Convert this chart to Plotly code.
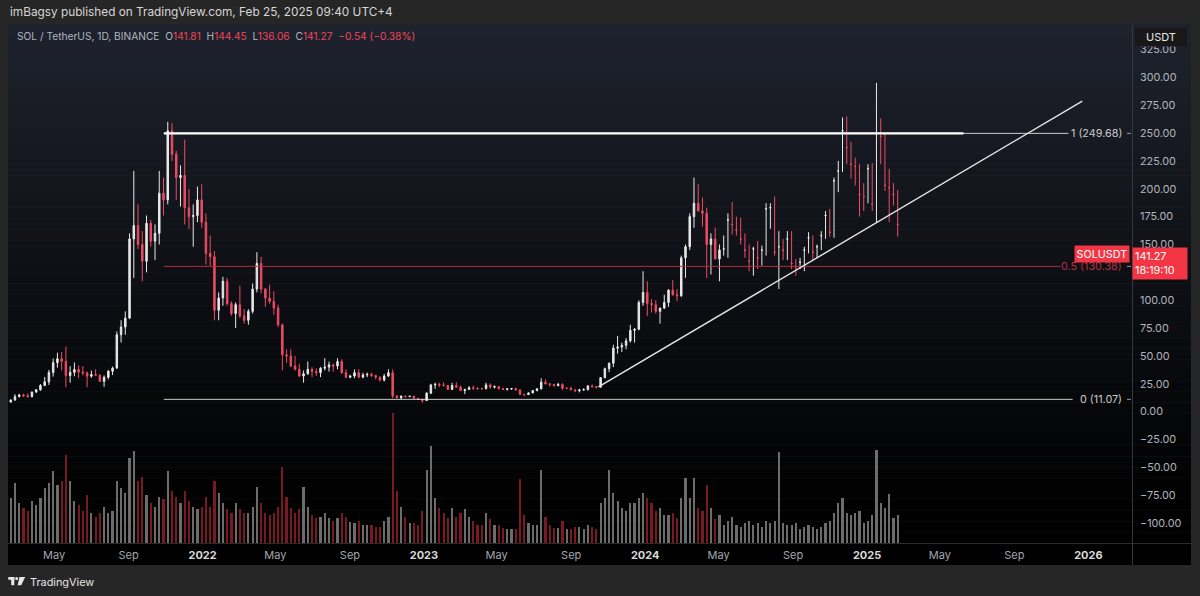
import plotly.graph_objects as go
import pandas as pd

# ---------------- data (weekly candles) ----------------
first_week_mid = "2021-02-18 12:00"

open_2021 = [8.6, 10.4, 13.5, 15.0, 14.2, 13.4, 17.6, 19.6, 23.5, 26.8, 35.2, 44.0, 47.5, 45.2, 32.5, 35.3,
             37.8, 35.6, 34.7, 31.9, 33.3, 32.7, 27.2, 30.9, 36.2, 39.1, 69, 76, 84, 155, 167, 150, 135, 169,
             153, 160, 196, 190, 252, 231, 210, 212, 183, 175, 176, 190]
high_2021 = [11.2, 15.7, 16.0, 16.2, 16.4, 18.0, 20.3, 24.8, 31.0, 37.5, 47.6, 53.0, 53.5, 58.3, 40.8, 44.2,
             41.5, 41.0, 36.0, 36.9, 38.0, 33.7, 32.5, 37.5, 40.5, 72, 82, 90, 160, 216, 186, 162, 176, 172,
             168, 216, 210, 260, 259, 234, 221, 244, 200, 186, 202, 204]
low_2021 = [8.3, 10.0, 12.8, 13.5, 12.9, 13.0, 16.8, 18.8, 22.9, 24.0, 31.5, 39.5, 36.9, 22.0, 26.0, 31.8,
            30.1, 32.5, 22.0, 30.4, 31.8, 26.7, 22.3, 29.0, 32.8, 38.5, 62, 69, 83, 120, 146, 117, 125, 148,
            136, 150, 176, 186, 225, 190, 184, 168, 164, 148, 170, 165]
close_2021 = [10.4, 13.5, 15.0, 14.2, 13.4, 17.6, 19.6, 23.5, 26.8, 35.2, 44.0, 47.5, 45.2, 32.5, 35.3, 37.8,
              35.6, 34.7, 31.9, 33.3, 32.7, 27.2, 30.9, 36.2, 39.1, 69, 76, 84, 155, 167, 150, 135, 169, 153,
              160, 196, 190, 252, 231, 210, 212, 183, 175, 176, 190, 170]

open_2022 = [170, 142, 139, 91, 102, 117, 97, 88, 96, 86, 82, 90, 110, 133, 110, 102, 99, 93, 78, 51, 50, 41,
             38, 32, 34, 38, 36, 35, 39, 40, 42, 41, 45, 35, 31, 32, 35, 31, 33, 33.5, 32.5, 31, 28.5, 32, 35,
             14, 12.5, 14, 13.5, 13.8, 12.0, 11.2]
high_2022 = [178, 158, 144, 107, 121, 120, 99, 98, 113, 92, 92, 115, 143, 139, 111, 114, 108, 96, 79, 56, 56,
             50, 43, 37, 45, 40, 39, 40, 48, 45, 43, 48, 47, 38, 33, 38, 38, 35, 35, 35, 33, 31.5, 34, 38, 38,
             15, 14.5, 14.5, 14.5, 14.2, 12.2, 11.3]
low_2022 = [132, 131, 82, 82, 95, 95, 86, 75, 84, 79, 78, 88, 107, 106, 94, 97, 87, 76, 37, 44, 40, 37, 31, 26,
            33, 31, 32, 31, 37, 36, 36, 38, 34, 30, 30, 30, 30, 30, 31, 31, 29, 27, 27, 31, 12, 12, 11.2, 12.8,
            13.3, 11.6, 10.9, 8.0]
close_2022 = [142, 139, 91, 102, 117, 97, 88, 96, 86, 82, 90, 110, 133, 110, 102, 99, 93, 78, 51, 50, 41, 38,
              32, 34, 38, 36, 35, 39, 40, 42, 41, 45, 35, 31, 32, 35, 31, 33, 33.5, 32.5, 31, 28.5, 32, 35, 14,
              12.5, 14, 13.5, 13.8, 12.0, 11.2, 10.0]

open_2023 = [10.0, 16.6, 24.0, 24.5, 24.0, 23.5, 20.0, 23.5, 22.0, 19.0, 20.0, 21.5, 21.0, 20.8, 20.5, 24.0,
             22.0, 22.5, 20.5, 20.0, 20.5, 20.8, 19.5, 15.5, 15.3, 16.8, 19.0, 20.5, 26.5, 25.0, 24.5, 23.3,
             24.5, 21.0, 21.0, 19.5, 18.8, 19.5, 19.8, 23.0, 22.5, 22.0, 30.5, 38.5, 43.5, 57.0, 58.0, 59.5,
             63.5, 73.0, 74.0, 98.0]
high_2023 = [17.5, 25.0, 26.0, 26.0, 26.5, 24.0, 26.0, 26.5, 23.5, 20.5, 23.0, 23.5, 21.8, 21.5, 26.0, 25.5,
             23.5, 23.0, 21.5, 21.0, 21.0, 21.5, 20.0, 16.0, 17.5, 19.5, 21.0, 30.0, 29.0, 25.5, 25.0, 25.8,
             25.5, 22.0, 22.5, 20.5, 20.5, 21.0, 24.0, 24.5, 23.0, 31.0, 39.5, 44.0, 60.0, 68.0, 62.0, 66.0,
             78.0, 75.0, 100.0, 126.0]
low_2023 = [9.9, 15.8, 20.5, 22.0, 22.5, 19.5, 19.5, 21.5, 18.5, 15.8, 19.5, 19.5, 19.5, 19.8, 20.3, 20.5,
            20.8, 20.0, 19.5, 19.0, 19.5, 19.0, 15.0, 13.8, 15.0, 16.5, 18.2, 20.0, 24.5, 22.5, 22.5, 23.0,
            19.5, 20.0, 19.5, 17.5, 17.3, 18.8, 19.0, 21.5, 20.8, 21.8, 30.0, 35.5, 40.0, 52.0, 53.5, 56.0,
            62.0, 62.0, 73.0, 95.0]
close_2023 = [16.6, 24.0, 24.5, 24.0, 23.5, 20.0, 23.5, 22.0, 19.0, 20.0, 21.5, 21.0, 20.8, 20.5, 24.0, 22.0,
              22.5, 20.5, 20.0, 20.5, 20.8, 19.5, 15.5, 15.3, 16.8, 19.0, 20.5, 26.5, 25.0, 24.5, 23.3, 24.5,
              21.0, 21.0, 19.5, 18.8, 19.5, 19.8, 23.0, 22.5, 22.0, 30.5, 38.5, 43.5, 57.0, 58.0, 59.5, 63.5,
              73.0, 74.0, 98.0, 107.0]

open_2024 = [107, 97, 96, 90, 93, 98, 109, 105, 104, 138, 148, 175, 187, 180, 178, 150, 155, 137, 146, 172,
             168, 163, 155, 145, 135, 146, 138, 145, 182, 183, 143, 148, 145, 155, 133, 130, 134, 145, 156,
             143, 148, 158, 176, 161, 207, 216, 252, 237, 222, 220, 195, 193]
high_2024 = [117, 101, 100, 92, 105, 110, 118, 110, 140, 150, 178, 210, 204, 192, 183, 160, 165, 150, 158,
             178, 188, 175, 174, 160, 150, 148, 153, 149, 187, 187, 193, 162, 155, 162, 162, 137, 138, 148, 161,
             158, 150, 162, 180, 182, 210, 225, 264, 265, 242, 228, 222, 205, 222]
low_2024 = [86, 89, 88, 79, 92, 94, 104, 99, 103, 120, 145, 165, 180, 166, 120, 123, 140, 117, 140, 138, 159,
            158, 150, 138, 126, 122, 128, 131, 140, 164, 140, 110, 136, 136, 128, 122, 128, 126, 142, 136, 138,
            145, 155, 157, 156, 197, 215, 222, 209, 203, 175, 180, 187]
close_2024 = [97, 96, 90, 93, 98, 109, 105, 104, 138, 148, 175, 187, 180, 178, 150, 155, 137, 145, 146, 172,
              168, 163, 155, 145, 135, 146, 138, 145, 182, 183, 143, 148, 145, 155, 133, 130, 134, 145, 156,
              143, 148, 158, 176, 161, 207, 216, 252, 237, 222, 220, 195, 193, 218]

open_2025 = [218, 186, 250, 247, 203, 201, 195, 168]
high_2025 = [223, 295, 263, 250, 218, 205, 199, 170]
low_2025 = [180, 170, 222, 198, 170, 185, 157, 136.06]
close_2025 = [186, 250, 247, 203, 201, 195, 168, 141.27]

# relative volume (weekly peaks, arbitrary units)
vol_2021 = [45, 60, 40, 35, 32, 42, 38, 45, 55, 60, 72, 58, 62, 88, 62, 42, 38, 32, 48, 30, 26, 30, 36, 30,
            32, 62, 55, 50, 85, 92, 62, 66, 48, 40, 36, 46, 44, 72, 52, 46, 40, 52, 42, 36, 34, 36]
vol_2022 = [46, 36, 62, 50, 40, 34, 30, 40, 34, 30, 30, 36, 56, 40, 30, 28, 30, 36, 76, 46, 35, 30, 34, 56,
            36, 28, 25, 26, 30, 25, 22, 25, 30, 26, 21, 20, 22, 18, 18, 18, 16, 16, 22, 26, 130, 52, 36, 26,
            20, 20, 18, 32]
vol_2023 = [73, 97, 45, 35, 30, 25, 35, 26, 30, 34, 26, 22, 18, 18, 30, 24, 18, 18, 15, 14, 14, 14, 64, 28,
            20, 18, 18, 73, 26, 18, 15, 15, 22, 14, 14, 16, 16, 14, 18, 16, 14, 40, 45, 73, 50, 42, 35, 32,
            40, 40, 45, 50]
vol_2024 = [45, 40, 32, 35, 28, 28, 30, 25, 45, 65, 45, 65, 35, 32, 58, 35, 24, 28, 18, 22, 26, 18, 16, 20,
            22, 18, 20, 16, 22, 20, 22, 91, 20, 18, 18, 20, 14, 16, 18, 16, 14, 16, 20, 22, 30, 40, 45, 30,
            28, 30, 32, 20, 22]
vol_2025 = [28, 93, 40, 35, 49, 25, 28, 30]

opens = open_2021 + open_2022 + open_2023 + open_2024 + open_2025
highs = high_2021 + high_2022 + high_2023 + high_2024 + high_2025
lows = low_2021 + low_2022 + low_2023 + low_2024 + low_2025
closes = close_2021 + close_2022 + close_2023 + close_2024 + close_2025
volumes = vol_2021 + vol_2022 + vol_2023 + vol_2024 + vol_2025
dates = pd.date_range(first_week_mid, periods=len(closes), freq="7D")

# drawings
fib_start = "2021-10-29"
fib_levels = [249.68, 130.38, 11.07]
fib_labels = ["1 (249.68)", "0.5 (130.38)", "0 (11.07)"]
fib_line_ends = ["2025-11-29", "2025-11-16", "2025-12-06"]
fib_colors = ["rgba(235,235,235,0.85)", "rgba(190,45,60,0.95)", "rgba(235,235,235,0.85)"]
fib_label_colors = ["#c9c9c9", "#b0323f", "#c9c9c9"]
top_line_end = "2025-06-09"
trend_dates = ["2023-10-16", "2025-12-22"]
trend_prices = [22.2, 278.7]

price_ticks = [-100, -75, -50, -25, 0, 25, 50, 75, 100, 125, 150, 175, 200, 225, 250, 275, 300, 325]
time_ticks = ["2021-05-01", "2021-09-01", "2022-01-01", "2022-05-01", "2022-09-01", "2023-01-01",
              "2023-05-01", "2023-09-01", "2024-01-01", "2024-05-01", "2024-09-01", "2025-01-01",
              "2025-05-01", "2025-09-01", "2026-01-01"]
time_labels = ["May", "Sep", "2022", "May", "Sep", "2023", "May", "Sep", "2024", "May", "Sep", "2025",
               "May", "Sep", "2026"]

last_price = 141.27
countdown = "18:19:10"

# ---------------- figure ----------------
L, R, T, B = 8, 1132, 24, 543  # plot area in pixels
W, H = 1200, 596


def PX(px):
    return (px - L) / (R - L)


def PY(py):
    return (B - py) / (B - T)


UP = "#e8e8e8"
DOWN = "#ec4d62"

fig = go.Figure()

vol_colors = ["rgba(150,150,150,0.72)" if c >= o else "rgba(140,30,42,0.85)" for o, c in zip(opens, closes)]
fig.add_trace(go.Bar(x=dates, y=volumes, yaxis="y2", marker=dict(color=vol_colors, line=dict(width=0)),
                     width=3.6 * 86400000, hoverinfo="skip"))

fig.add_trace(go.Candlestick(
    x=dates, open=opens, high=highs, low=lows, close=closes,
    increasing=dict(line=dict(color=UP, width=1), fillcolor=UP),
    decreasing=dict(line=dict(color=DOWN, width=1), fillcolor=DOWN),
    whiskerwidth=0, hoverinfo="skip"))

shapes = []
# background gradient of the chart panel (plot + price scale)
n = 48
for i in range(n):
    t0 = i / n
    t1 = (i + 1) / n
    f = 1 - (i + 0.5) / n
    r, g, b = int(31 * f ** 1.15), int(35 * f ** 1.15), int(46 * f ** 1.15)
    shapes.append(dict(type="rect", xref="paper", yref="paper", x0=PX(8), x1=PX(1191),
                       y0=1 - t1, y1=1 - t0, fillcolor=f"rgb({r},{g},{b})", line=dict(width=0), layer="below"))
# time-axis strip
shapes.append(dict(type="rect", xref="paper", yref="paper", x0=PX(8), x1=PX(1191), y0=PY(565), y1=PY(543),
                   fillcolor="#000000", line=dict(width=0), layer="below"))
shapes.append(dict(type="line", xref="paper", yref="paper", x0=PX(8), x1=PX(1191), y0=PY(543.5), y1=PY(543.5),
                   line=dict(color="#2b2b2b", width=1), layer="below"))
shapes.append(dict(type="line", xref="paper", yref="paper", x0=PX(1132.5), x1=PX(1132.5), y0=PY(565), y1=PY(24),
                   line=dict(color="#34373f", width=1), layer="below"))

# fib retracement lines
for lvl, end, col in zip(fib_levels, fib_line_ends, fib_colors):
    shapes.append(dict(type="line", xref="x", yref="y", x0=fib_start, x1=end, y0=lvl, y1=lvl,
                       line=dict(color=col, width=1)))
    shapes.append(dict(type="line", xref="paper", yref="y", x0=PX(1127), x1=PX(1131), y0=lvl, y1=lvl,
                       line=dict(color="#9a9a9a", width=1)))
shapes.append(dict(type="line", xref="x", yref="y", x0=fib_start, x1=top_line_end, y0=fib_levels[0],
                   y1=fib_levels[0], line=dict(color="#ffffff", width=2.2)))
# trend line
shapes.append(dict(type="line", xref="x", yref="y", x0=trend_dates[0], x1=trend_dates[1],
                   y0=trend_prices[0], y1=trend_prices[1], line=dict(color="#e6e6e6", width=1.4)))

# USDT box
shapes.append(dict(type="rect", xref="paper", yref="paper", x0=PX(1135), x1=PX(1187), y0=PY(46.5), y1=PY(27.5),
                   fillcolor="#181818", line=dict(width=0)))

# TradingView logo glyph
shapes.append(dict(type="rect", xref="paper", yref="paper", x0=PX(8.3), x1=PX(14.3), y0=PY(579.8), y1=PY(577),
                   fillcolor="#e6e6e6", line=dict(width=0)))
shapes.append(dict(type="rect", xref="paper", yref="paper", x0=PX(11.2), x1=PX(14.3), y0=PY(585.2), y1=PY(577),
                   fillcolor="#e6e6e6", line=dict(width=0)))
shapes.append(dict(type="circle", xref="paper", yref="paper", x0=PX(15.2), x1=PX(18.2), y0=PY(580.1), y1=PY(577.1),
                   fillcolor="#e6e6e6", line=dict(width=0)))
shapes.append(dict(type="path", xref="paper", yref="paper",
                   path=f"M {PX(19.5)} {PY(577)} L {PX(25.2)} {PY(577)} L {PX(21.2)} {PY(585.2)} L {PX(17.6)} {PY(585.2)} Z",
                   fillcolor="#e6e6e6", line=dict(width=0)))

FONT = "Inter, Roboto, sans-serif"
anns = []
anns.append(dict(xref="paper", yref="paper", x=PX(8), y=PY(12.5), xanchor="left", yanchor="middle",
                 text="imBagsy published on TradingView.com, Feb 25, 2025 09:40 UTC+4", showarrow=False,
                 font=dict(family=FONT, size=11.8, color="#d6d6d6")))
red = "#f0455a"
grey = "#b2b5be"
legend = (f"<span style='color:{grey}'>SOL / TetherUS, 1D, BINANCE  </span>"
          f"<span style='color:{grey}'>O</span><span style='color:{red}'>141.81</span>  "
          f"<span style='color:{grey}'>H</span><span style='color:{red}'>144.45</span>  "
          f"<span style='color:{grey}'>L</span><span style='color:{red}'>136.06</span>  "
          f"<span style='color:{grey}'>C</span><span style='color:{red}'>141.27</span>  "
          f"<span style='color:{red}'>−0.54 (−0.38%)</span>")
anns.append(dict(xref="paper", yref="paper", x=PX(15), y=PY(36), xanchor="left", yanchor="middle",
                 text=legend, showarrow=False, font=dict(family=FONT, size=10.2, color=grey)))
anns.append(dict(xref="paper", yref="paper", x=PX(1161), y=PY(37), xanchor="center", yanchor="middle",
                 text="USDT", showarrow=False, font=dict(family=FONT, size=11, color="#e8e8e8")))
for lvl, lab, col in zip(fib_levels, fib_labels, fib_label_colors):
    anns.append(dict(xref="paper", yref="y", x=PX(1124), y=lvl, xanchor="right", yanchor="middle",
                     text=lab, showarrow=False, font=dict(family=FONT, size=10.8, color=col)))
anns.append(dict(xref="paper", yref="y", x=PX(1130), y=last_price, xanchor="right", yanchor="middle",
                 text="SOLUSDT", showarrow=False, bgcolor="#f23645", borderpad=1.5,
                 font=dict(family=FONT, size=10.8, color="#ffffff")))
anns.append(dict(xref="paper", yref="y", x=PX(1132), y=last_price, xanchor="left", yanchor="top", yshift=7.5,
                 text=f"{last_price:.2f}<br>{countdown}", showarrow=False, bgcolor="#f23645", borderpad=2,
                 align="left", width=50, font=dict(family=FONT, size=10.8, color="#ffffff")))
anns.append(dict(xref="paper", yref="paper", x=PX(28), y=PY(581.5), xanchor="left", yanchor="middle",
                 text="TradingView", showarrow=False, font=dict(family=FONT, size=10.9, color="#e6e6e6")))

tick_text_x = [f"<b><span style='color:#d8d8d8'>{t}</span></b>" if t.isdigit() else t for t in time_labels]
tick_text_y = [(f"{v:.2f}" if v >= 0 else f"−{abs(v):.2f}") for v in price_ticks]

fig.update_layout(
    width=W, height=H,
    margin=dict(l=L, r=W - R, t=T, b=H - B, pad=0),
    paper_bgcolor="#262626", plot_bgcolor="rgba(0,0,0,0)",
    showlegend=False, bargap=0, boxgap=0.5,
    shapes=shapes, annotations=anns,
    xaxis=dict(type="date", range=["2021-02-14", "2026-03-14"], rangeslider=dict(visible=False),
               showgrid=False, zeroline=False, showline=False, ticks="",
               tickvals=time_ticks, ticktext=tick_text_x,
               tickfont=dict(family=FONT, size=11, color="#a3a6ae"), ticklabelstandoff=4),
    yaxis=dict(side="right", range=[-117.8, 347.8], showgrid=False, zeroline=False, showline=False, ticks="",
               tickvals=price_ticks, ticktext=tick_text_y, ticklabelstandoff=7,
               tickfont=dict(family=FONT, size=10.8, color="#b2b5be")),
    yaxis2=dict(overlaying="y", range=[0, 519], visible=False, fixedrange=True),
)

fig.write_html("out.html", config={"displayModeBar": False},
               post_script="document.body.style.margin='0';document.body.style.background='#262626';")
